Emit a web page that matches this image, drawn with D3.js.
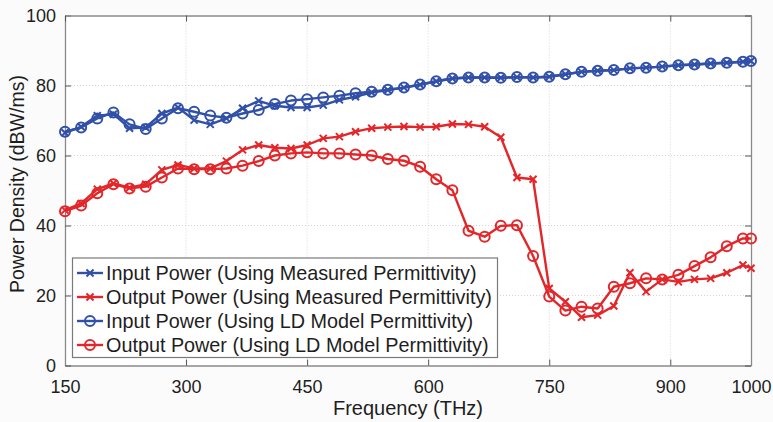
<!DOCTYPE html>
<html>
<head>
<meta charset="utf-8">
<script src="https://cdn.jsdelivr.net/npm/d3@7"></script>
<style>
  html, body { margin: 0; padding: 0; background: #fbfbfb; }
  svg { display: block; font-family: "Liberation Sans", Arial, Helvetica, sans-serif; }
</style>
</head>
<body>
<svg id="chart" width="773" height="422"></svg>
<script>
// ---- data ----
const frequency = [150,170,190,210,230,250,270,290,310,330,350,370,390,410,430,450,470,490,510,530,550,570,590,610,630,650,670,690,710,730,750,770,790,810,830,850,870,890,910,930,950,970,990,1000];
const inputMeasured = [66.5,68.2,71.4,71.8,67.8,68.0,72.0,73.7,70.1,68.9,70.6,73.5,75.6,74.2,73.7,73.7,74.4,75.9,76.8,78.0,78.7,79.4,80.2,81.2,82.0,82.3,82.3,82.2,82.4,82.3,82.5,83.2,83.9,84.2,84.4,84.9,85.1,85.4,85.8,86.0,86.3,86.5,86.8,87.0];
const outputMeasured = [44.4,46.3,50.4,52.0,50.8,51.8,55.9,57.3,56.3,56.3,58.4,61.6,63.0,62.2,62.0,63.0,64.9,65.4,66.8,67.8,68.1,68.3,68.1,68.2,69.0,68.9,68.2,65.2,53.7,53.2,22.0,18.2,13.8,14.4,17.0,26.5,21.1,24.6,23.9,24.6,24.9,26.5,28.7,27.8];
const inputLD = [66.8,68.0,70.6,72.3,68.9,67.6,70.6,73.5,72.5,71.4,70.8,72.0,73.0,74.7,75.7,76.1,76.6,77.1,77.8,78.2,78.8,79.4,80.3,81.2,82.0,82.3,82.3,82.2,82.4,82.3,82.5,83.2,83.9,84.2,84.4,84.9,85.1,85.4,85.8,86.0,86.3,86.5,86.8,87.0];
const outputLD = [44.1,45.7,49.2,51.8,50.6,51.1,53.7,56.3,56.1,56.1,56.3,57.1,58.4,60.0,60.6,60.9,60.6,60.6,60.3,60.0,59.0,58.5,56.8,53.2,50.1,38.5,36.8,39.9,40.1,31.3,19.7,15.7,16.8,16.3,22.5,23.5,24.9,24.6,25.9,28.4,30.9,34.1,36.3,36.3];
const xTicks = [150,300,450,600,750,900,1000];
const yTicks = [0,20,40,60,80,100];
const seriesNames = [
  "Input Power (Using Measured Permittivity)",
  "Output Power (Using Measured Permittivity)",
  "Input Power (Using LD Model Permittivity)",
  "Output Power (Using LD Model Permittivity)"
];

// ---- layout ----
const BLUE = "#3150a8", RED = "#e3262a";
const pLeft = 65, pRight = 751, pTop = 15.5, pBottom = 365.5;
const svg = d3.select("#chart");
const x = d3.scaleLinear().domain([150, 1000]).range([pLeft, pRight]);
const y = d3.scaleLinear().domain([0, 100]).range([pBottom, pTop]);

svg.append("rect").attr("x", pLeft).attr("y", pTop).attr("width", pRight - pLeft).attr("height", pBottom - pTop).attr("fill", "#ffffff");

// grid
const grid = svg.append("g").attr("stroke", "#d4d4d4").attr("stroke-width", 1).attr("stroke-dasharray", "1,2");
grid.selectAll("line.vx").data(xTicks.slice(1, -1)).join("line")
  .attr("x1", d => x(d)).attr("x2", d => x(d)).attr("y1", pTop).attr("y2", pBottom);
grid.selectAll("line.hy").data(yTicks.slice(1, -1)).join("line")
  .attr("y1", d => y(d)).attr("y2", d => y(d)).attr("x1", pLeft).attr("x2", pRight);

// axes
const tickFmt = d3.format("d");
const xAxis = svg.append("g").attr("transform", `translate(0,${pBottom})`)
  .call(d3.axisBottom(x).tickValues(xTicks).tickFormat(tickFmt).tickSizeInner(-6).tickSizeOuter(0).tickPadding(15));
const yAxis = svg.append("g").attr("transform", `translate(${pLeft},0)`)
  .call(d3.axisLeft(y).tickValues(yTicks).tickFormat(tickFmt).tickSizeInner(-6).tickSizeOuter(0).tickPadding(9));
const xTop = svg.append("g").attr("transform", `translate(0,${pTop})`)
  .call(d3.axisTop(x).tickValues(xTicks).tickFormat("").tickSizeInner(-6).tickSizeOuter(0));
const yRight = svg.append("g").attr("transform", `translate(${pRight},0)`)
  .call(d3.axisRight(y).tickValues(yTicks).tickFormat("").tickSizeInner(-6).tickSizeOuter(0));
[xAxis, yAxis, xTop, yRight].forEach(g => {
  g.select(".domain").attr("stroke", "#8a8a8a").attr("stroke-width", 1.3);
  g.selectAll(".tick line").attr("stroke", "#555").attr("stroke-width", 1);
  g.selectAll(".tick text").attr("fill", "#1e1e1e").attr("font-size", 18).attr("font-family", "Liberation Sans, Arial, sans-serif");
});

// axis titles
svg.append("text").attr("x", (pLeft + pRight) / 2).attr("y", 415).attr("text-anchor", "middle")
  .attr("font-size", 20).attr("fill", "#1e1e1e").text("Frequency (THz)");
svg.append("text").attr("transform", `translate(24,184) rotate(-90)`).attr("text-anchor", "middle")
  .attr("font-size", 19.5).attr("fill", "#1e1e1e").text("Power Density (dBW/ms)");

// series
const series = [
  { name: seriesNames[0], values: inputMeasured, color: BLUE, marker: "x" },
  { name: seriesNames[1], values: outputMeasured, color: RED, marker: "x" },
  { name: seriesNames[2], values: inputLD, color: BLUE, marker: "o" },
  { name: seriesNames[3], values: outputLD, color: RED, marker: "o" }
];
const line = d3.line().x(d => x(d[0])).y(d => y(d[1]));

function drawMarker(g, cx, cy, s) {
  if (s.marker === "o") {
    g.append("circle").attr("cx", cx).attr("cy", cy).attr("r", 5)
      .attr("fill", "none").attr("stroke", s.color).attr("stroke-width", 2);
  } else {
    const r = 3.5;
    g.append("path").attr("d", `M${cx - r},${cy - r}L${cx + r},${cy + r}M${cx - r},${cy + r}L${cx + r},${cy - r}`)
      .attr("stroke", s.color).attr("stroke-width", 2).attr("fill", "none");
  }
}

series.forEach(s => {
  const pts = frequency.map((f, i) => [f, s.values[i]]);
  const g = svg.append("g");
  g.append("path").datum(pts).attr("d", line).attr("fill", "none")
    .attr("stroke", s.color).attr("stroke-width", 2.4).attr("stroke-linejoin", "round");
  pts.forEach(p => drawMarker(g, x(p[0]), y(p[1]), s));
});

// legend
const lg = svg.append("g");
lg.append("rect").attr("x", 72.5).attr("y", 258).attr("width", 425).attr("height", 99.5)
  .attr("fill", "#ffffff").attr("stroke", "#7a7a7a").attr("stroke-width", 1.2);
series.forEach((s, i) => {
  const cy = 273 + i * 24;
  lg.append("line").attr("x1", 77).attr("x2", 103).attr("y1", cy).attr("y2", cy)
    .attr("stroke", s.color).attr("stroke-width", 2.4);
  drawMarker(lg, 90, cy, s);
  lg.append("text").attr("x", 106).attr("y", cy).attr("dy", "0.36em")
    .attr("font-size", 19.8).attr("fill", "#1e1e1e").text(s.name);
});
</script>
</body>
</html>
